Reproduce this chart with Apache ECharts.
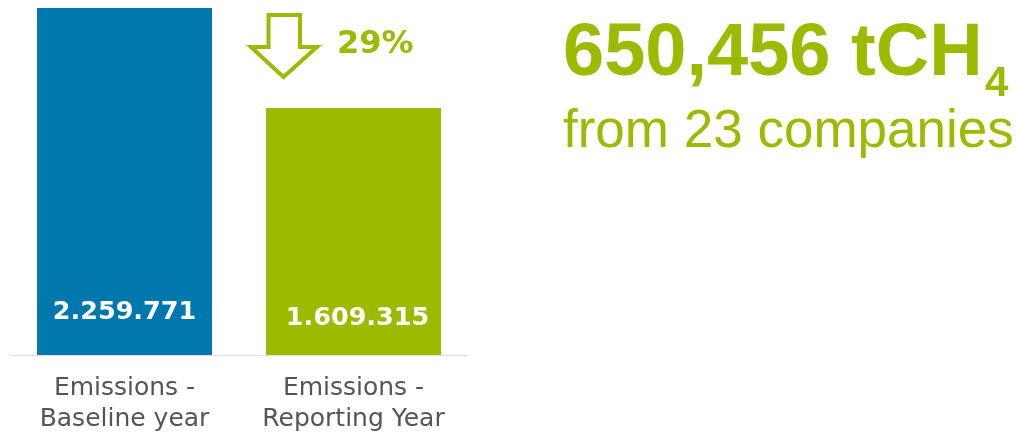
<!DOCTYPE html>
<html>
<head>
<meta charset="utf-8">
<script src="https://cdn.jsdelivr.net/npm/echarts@6/dist/echarts.min.js"></script>
<style>
html,body{margin:0;padding:0;background:#fff;}
#c{width:1018px;height:433px;}
</style>
</head>
<body>
<div id="c"></div>
<script>
var categories = ['Emissions -\nBaseline year', 'Emissions -\nReporting Year'];
var values = [2259771, 1609315];
var valueLabels = ['2.259.771', '1.609.315'];
var changeLabel = '29%';
var headline = '650,456 tCH';
var headlineSub = '4';
var subline = 'from 23 companies';

var BLUE = '#0077AD';
var GREEN = '#9CBA00';

var chart = echarts.init(document.getElementById('c'));
chart.setOption({
  animation: false,
  grid: {left: 10, right: 550, top: 8, bottom: 78, containLabel: false, outerBoundsMode: 'none'},
  xAxis: {
    type: 'category',
    data: categories,
    axisLine: {lineStyle: {color: '#dddddd', width: 1}},
    axisTick: {show: false},
    axisLabel: {
      interval: 0,
      hideOverlap: false,
      color: '#555555',
      fontFamily: 'DejaVu Sans',
      fontSize: 25,
      lineHeight: 31,
      margin: 18
    }
  },
  yAxis: {
    type: 'value',
    min: 0,
    max: values[0],
    show: false,
    splitLine: {show: false}
  },
  series: [{
    type: 'bar',
    barWidth: 175,
    data: [
      {value: values[0], itemStyle: {color: BLUE},
       label: {distance: 30, formatter: valueLabels[0]}},
      {value: values[1], itemStyle: {color: GREEN},
       label: {distance: 24, offset: [4, 0], formatter: valueLabels[1]}}
    ],
    label: {
      show: true,
      position: 'insideBottom',
      color: '#ffffff',
      fontFamily: 'DejaVu Sans',
      fontWeight: 'bold',
      fontSize: 25.5
    }
  }],
  graphic: [
    {
      type: 'polygon',
      shape: {points: [[268.5,15],[300,15],[300,47],[317,47],[283.5,77],[251,47],[268.5,47]]},
      style: {fill: 'none', stroke: GREEN, lineWidth: 4}
    },
    {
      type: 'text',
      style: {text: changeLabel, x: 337, y: 45, fill: GREEN,
        font: 'bold 32px "DejaVu Sans"', textVerticalAlign: 'middle', textAlign: 'left'}
    },
    {
      type: 'text',
      style: {text: headline, x: 563, y: 55, fill: GREEN,
        font: 'bold 74px "Liberation Sans", Arial', textVerticalAlign: 'middle', textAlign: 'left'}
    },
    {
      type: 'text',
      style: {text: headlineSub, x: 985, y: 84, fill: GREEN,
        font: 'bold 42px "Liberation Sans", Arial', textVerticalAlign: 'middle', textAlign: 'left'}
    },
    {
      type: 'text',
      style: {text: subline, x: 563, y: 132, fill: GREEN,
        font: '53px "Liberation Sans", Arial', textVerticalAlign: 'middle', textAlign: 'left'}
    }
  ]
});
</script>
</body>
</html>
